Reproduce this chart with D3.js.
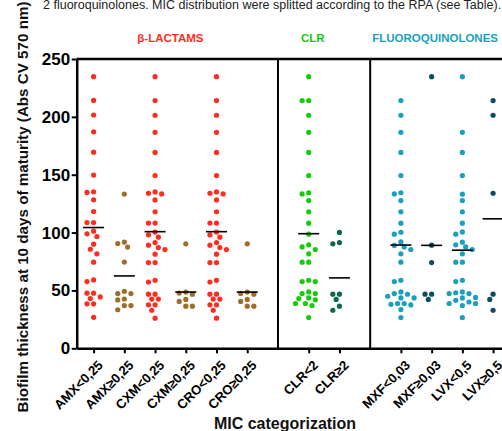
<!DOCTYPE html>
<html>
<head>
<meta charset="utf-8">
<script src="https://cdn.jsdelivr.net/npm/d3@7"></script>
<style>
  html, body { margin: 0; padding: 0; background: #fff; }
  svg { display: block; }
  text { font-family: "Liberation Sans", Arial, sans-serif; }
</style>
</head>
<body>
<svg id="chart" width="502" height="431"></svg>
<script>
// ---------------- DATA ----------------
const caption = "2 fluoroquinolones. MIC distribution were splitted according to the RPA (see Table).";
const yTitle = "Biofilm thickness at 10 days of maturity (Abs CV 570 nm)";
const xTitle = "MIC categorization";
const yTicks = [0, 50, 100, 150, 200, 250];

const groupNames = ["β-LACTAMS", "CLR", "FLUOROQUINOLONES"];
const categories = [
  "AMX<0,25", "AMX≥0,25", "CXM<0,25", "CXM≥0,25", "CRO<0,25", "CRO≥0,25",
  "CLR<2", "CLR≥2",
  "MXF<0,03", "MXF≥0,03", "LVX<0,5", "LVX≥0,5"
];
const categoryGroup = [0, 0, 0, 0, 0, 0, 1, 1, 2, 2, 2, 2];
const categoryResistant = [0, 1, 0, 1, 0, 1, 0, 1, 0, 1, 0, 1];

const amxLow  = [234.7, 214.2, 201.6, 187.1, 169.5, 149.7, 135.3, 134.7, 128.3, 118.2, 108.7, 108.7, 101.2, 98.9, 96.6, 90.0, 85.6, 81.6, 74.4, 59.1, 57.7, 47.6, 47.6, 44.4, 43.0, 38.4, 38.4, 26.8];
const amxHigh = [133.3, 91.8, 90.5, 87.5, 74.5, 49.2, 47.3, 47.3, 42.6, 41.8, 36.9, 36.9, 33.3];
const cxmLow  = [234.7, 214.1, 201.4, 186.6, 169.3, 149.3, 135.1, 134.0, 133.4, 128.2, 118.0, 108.2, 108.2, 100.4, 98.1, 96.0, 91.4, 89.1, 87.1, 85.3, 81.3, 74.1, 74.1, 58.7, 57.3, 46.8, 46.8, 42.5, 42.5, 37.6, 37.6, 32.9, 26.0];
const cxmHigh = [90.3, 48.6, 47.7, 46.8, 42.2, 40.5, 36.4, 36.4];
const croLow  = [234.7, 214.1, 201.4, 186.6, 169.3, 149.3, 135.1, 134.0, 133.4, 128.2, 118.0, 108.2, 108.2, 100.4, 98.1, 96.0, 91.4, 89.1, 87.1, 85.3, 81.3, 74.1, 74.1, 58.7, 57.3, 46.8, 46.8, 42.5, 42.5, 37.6, 37.6, 32.9, 26.0];
const croHigh = [90.3, 48.6, 47.4, 46.8, 42.2, 40.5, 36.4, 36.4];
const clrLow  = [234.7, 214.1, 214.1, 201.4, 186.6, 169.3, 149.3, 134.4, 133.4, 127.7, 117.9, 108.1, 98.6, 89.4, 87.6, 85.4, 81.6, 74.4, 74.4, 58.8, 57.7, 57.7, 48.7, 47.3, 47.3, 43.5, 43.0, 41.9, 38.7, 38.7, 36.9, 26.6];
const clrHigh = [100.1, 91.4, 90.3, 46.8, 46.8, 42.2, 36.4, 32.9];
const mxfLow  = [214.1, 201.4, 186.6, 169.3, 149.3, 134.4, 133.4, 127.7, 117.9, 108.1, 100.3, 98.6, 91.9, 88.9, 87.6, 85.4, 81.6, 74.4, 58.8, 57.7, 48.7, 47.3, 46.7, 45.0, 43.5, 43.5, 38.7, 38.7, 38.0, 37.5, 33.5, 26.6];
const mxfHigh = [234.7, 89.1, 74.1, 46.8, 46.8, 42.2];
const lvxLow  = [234.7, 186.6, 169.3, 149.3, 133.2, 127.7, 117.9, 108.1, 100.6, 98.6, 91.7, 89.4, 87.6, 85.4, 81.6, 74.4, 74.4, 58.8, 57.7, 48.7, 48.0, 47.3, 47.3, 44.0, 43.5, 41.5, 40.0, 38.7, 38.7, 37.0, 26.6];
const lvxHigh = [214.1, 201.4, 134.0, 46.8, 42.2, 32.9];

const seriesValues = [amxLow, amxHigh, cxmLow, cxmHigh, croLow, croHigh, clrLow, clrHigh, mxfLow, mxfHigh, lvxLow, lvxHigh];

// ---------------- STYLE ----------------
const groupColors = [
  ["#ff2d1f", "#9e6d2c"],
  ["#14cc0a", "#0d6845"],
  ["#1aa0bf", "#0e4c60"]
];
const labelColors = ["#ff2d1f", "#14cc0a", "#1aa0bf"];

// ---------------- LAYOUT ----------------
const W = 502, H = 431;
const svg = d3.select("#chart");
const slotStep = 30.73;
const slots = categories.map((c, i) => i + categoryGroup[i]);
const x = d3.scaleLinear().domain([-0.55, 14.6]).range([76.7, 76.7 + 15.15 * slotStep]);
const y = d3.scaleLinear().domain([0, 250]).range([348.3, 59]);

// caption
svg.append("text")
  .attr("x", 43).attr("y", 9)
  .attr("font-size", 12.5)
  .attr("fill", "#222")
  .text(caption);

// y title
svg.append("text")
  .attr("transform", `translate(28,207) rotate(-90)`)
  .attr("text-anchor", "middle")
  .attr("font-size", 15.2)
  .attr("font-weight", "bold")
  .attr("fill", "#111")
  .text(yTitle);

// x title
svg.append("text")
  .attr("x", 285).attr("y", 429)
  .attr("text-anchor", "middle")
  .attr("font-size", 16)
  .attr("font-weight", "bold")
  .attr("fill", "#111")
  .text(xTitle);

// group labels
const groupLabelPos = [
  { x: (x(0) + x(5)) / 2, anchor: "middle" },
  { x: x(7) + 4, anchor: "middle" },
  { x: x(9) + 2, anchor: "start" }
];
groupNames.forEach((g, i) => {
  svg.append("text")
    .attr("x", groupLabelPos[i].x).attr("y", 42)
    .attr("text-anchor", groupLabelPos[i].anchor)
    .attr("font-size", 11.5)
    .attr("font-weight", "bold")
    .attr("fill", labelColors[i])
    .text(g);
});

// frame: top line and group separators
const frame = svg.append("g").attr("stroke", "#000").attr("fill", "none");
frame.append("line").attr("x1", x(-0.55)).attr("x2", W + 5).attr("y1", y(250)).attr("y2", y(250)).attr("stroke-width", 2.5);
[6, 9].forEach(s => {
  frame.append("line").attr("x1", x(s)).attr("x2", x(s)).attr("y1", y(250)).attr("y2", y(0)).attr("stroke-width", 2);
});

// y axis
const yAxis = svg.append("g")
  .attr("transform", `translate(${x(-0.55)},0)`)
  .call(d3.axisLeft(y).tickValues(yTicks).tickSize(5).tickSizeOuter(0).tickPadding(1.5));
yAxis.select(".domain").attr("stroke-width", 2.5);
yAxis.selectAll(".tick line").attr("stroke-width", 2);
yAxis.selectAll(".tick text")
  .attr("font-size", 17).attr("font-weight", "bold").attr("fill", "#000")
  .attr("font-family", "Liberation Sans, Arial, sans-serif");

// x axis
const xAxis = svg.append("g")
  .attr("transform", `translate(0,${y(0)})`)
  .call(d3.axisBottom(x).tickValues(slots).tickFormat((d, i) => categories[i]).tickSize(5).tickSizeOuter(0));
xAxis.select(".domain").attr("stroke-width", 2.5);
xAxis.selectAll(".tick line").attr("stroke-width", 2);
xAxis.selectAll(".tick text")
  .attr("font-size", 13.2).attr("font-weight", "bold").attr("fill", "#000")
  .attr("font-family", "Liberation Sans, Arial, sans-serif")
  .attr("text-anchor", "end")
  .attr("dy", null)
  .attr("transform", "translate(4,12) rotate(-45)");

// dots with simple beeswarm placement
const r = 2.6;
const minDist = 5.7;
const step = 6.6;
const plot = svg.append("g");
seriesValues.forEach((vals, ci) => {
  const cx = x(slots[ci]);
  const color = groupColors[categoryGroup[ci]][categoryResistant[ci]];
  const placed = [];
  const sorted = vals.slice().sort((a, b) => b - a);
  const cand = [0];
  for (let k = 1; k < 10; k++) { cand.push(-k * step / 2, k * step / 2); }
  sorted.forEach(v => {
    const py = y(v);
    let off = 0;
    for (const c of cand) {
      const ok = placed.every(p => Math.hypot(p.x - c, p.y - py) >= minDist);
      if (ok) { off = c; break; }
    }
    placed.push({ x: off, y: py, v });
  });
  plot.selectAll(null).data(placed).enter().append("circle")
    .attr("cx", d => cx + d.x).attr("cy", d => d.y).attr("r", r)
    .attr("fill", color);
  const m = d3.mean(vals);
  plot.append("line")
    .attr("x1", cx - 10.5).attr("x2", cx + 10.5)
    .attr("y1", y(m)).attr("y2", y(m))
    .attr("stroke", "#000").attr("stroke-width", 1.6);
});
</script>
</body>
</html>
